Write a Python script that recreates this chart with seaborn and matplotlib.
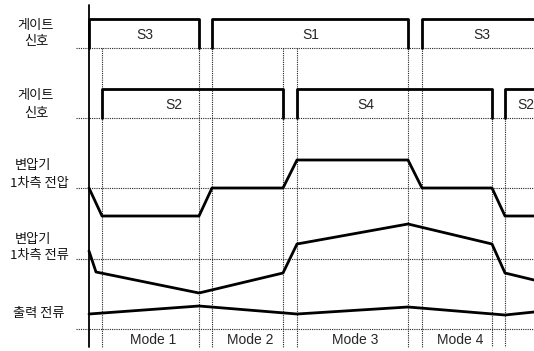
import matplotlib
matplotlib.use("Agg")
import matplotlib.pyplot as plt
import seaborn as sns
import pandas as pd

# ---- switching sequence (time units, 0 = left axis) ----
switch_times = [13, 110, 123, 194, 208, 319, 333, 403, 416]
t_end = 445

# gate pulses: (on, off, name)
gate_a_on = [0, 123, 333]
gate_a_off = [110, 319, 450]
gate_a_names = ["S3", "S1", "S3"]
gate_a_name_t = [56, 222, 393]

gate_b_on = [13, 208, 416]
gate_b_off = [194, 403, 450]
gate_b_names = ["S2", "S4", "S2"]
gate_b_name_t = [85, 277, 437]

# transformer primary voltage (normalised level)
vp_t = [0, 13, 110, 123, 194, 208, 319, 333, 403, 416, 450]
vp_level = [0, -1, -1, 0, 0, 1, 1, 0, 0, -1, -1]

# transformer primary current (relative to its reference line)
ip_t = [0, 7, 110, 194, 208, 319, 403, 416, 445]
ip_val = [8, -13, -34, -14, 15, 35, 15, -14, -21]

# output current
io_t = [0, 110, 208, 319, 416, 445]
io_val = [15, 23, 15, 22, 14, 17]

mode_names = ["Mode 1", "Mode 2", "Mode 3", "Mode 4"]
mode_spans = [(13, 110), (123, 194), (208, 319), (333, 403)]

# ---- layout ----
row_base = {"ga": 48, "gb": 118, "vp": 188, "ip": 259, "io": 329}
pulse_h = 29
vp_scale = 28

sns.set_style("white")
plt.rcParams["font.family"] = ["Noto Sans CJK KR", "DejaVu Sans"]

fig = plt.figure(figsize=(5.34, 3.51), dpi=100)
ax = fig.add_axes([0, 0, 1, 1])

thick = dict(color="black", lw=2.0, legend=False)
dot = dict(color="#222222", lw=0.8, ls=(0, (1, 1)))

# reference lines
for key, y in row_base.items():
    ax.plot([-13, t_end], [y, y], **dot)

# switching instants
for t in switch_times:
    top = row_base["gb"] if t >= 403 else row_base["ga"]
    ax.plot([t, t], [top, 347], **dot)

# main time axis
ax.plot([0, 0], [5, 347], color="black", lw=1.3)


def pulses(on, off, base):
    rows = []
    for k, (a, b) in enumerate(zip(on, off)):
        for x, y in [(a, base), (a, base - pulse_h), (b, base - pulse_h), (b, base)]:
            rows.append({"t": x, "y": y, "p": k})
    return pd.DataFrame(rows)


for on, off, names, nt, key, dy in [
    (gate_a_on, gate_a_off, gate_a_names, gate_a_name_t, "ga", 13),
    (gate_b_on, gate_b_off, gate_b_names, gate_b_name_t, "gb", 13),
]:
    df = pulses(on, off, row_base[key])
    sns.lineplot(data=df, x="t", y="y", units="p", estimator=None, sort=False, ax=ax, **thick)
    for name, x in zip(names, nt):
        ax.text(x, row_base[key] - dy, name, ha="center", va="center",
                fontsize=10, family="Liberation Sans")

# voltage
df_v = pd.DataFrame({"t": vp_t, "y": [row_base["vp"] - vp_scale * v for v in vp_level]})
sns.lineplot(data=df_v, x="t", y="y", sort=False, estimator=None, ax=ax, **thick)

# primary current
df_i = pd.DataFrame({"t": ip_t, "y": [row_base["ip"] - v for v in ip_val]})
sns.lineplot(data=df_i, x="t", y="y", sort=False, estimator=None, ax=ax, **thick)

# output current
df_o = pd.DataFrame({"t": io_t, "y": [row_base["io"] - v for v in io_val]})
sns.lineplot(data=df_o, x="t", y="y", sort=False, estimator=None, ax=ax, **thick)

ax.set_xlim(-89, 445)
ax.set_ylim(351, 0)
ax.axis("off")

# channel names
lab = dict(ha="center", va="center", fontsize=9.5, color="#111111", fontweight="medium")
ax.text(-53, 25, "게이트", **lab)
ax.text(-53, 42, "신호", **lab)
ax.text(-53, 95, "게이트", **lab)
ax.text(-53, 114, "신호", **lab)
ax.text(-56, 165, "변압기", **lab)
ax.text(-50, 183, "1차측 전압", **lab)
ax.text(-56, 239, "변압기", **lab)
ax.text(-50, 256, "1차측 전류", **lab)
ax.text(-50, 313, "출력 전류", **lab)

# mode names
for name, (a, b) in zip(mode_names, mode_spans):
    ax.text((a + b) / 2 + 3, 340, name, ha="center", va="center",
            fontsize=10, family="Liberation Sans")

fig.savefig("out.png", dpi=100, facecolor="white")
